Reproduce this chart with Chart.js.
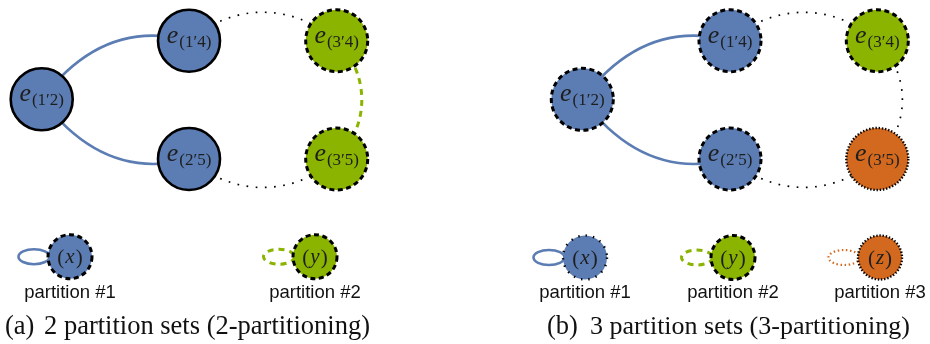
<!DOCTYPE html>
<html>
<head>
<meta charset="utf-8">
<script src="https://cdn.jsdelivr.net/npm/chart.js@4.4.1/dist/chart.umd.min.js"></script>
<style>
  html, body { margin: 0; padding: 0; background: #fff; }
  canvas { display: block; }
</style>
</head>
<body>
<canvas id="graph" width="930" height="344"></canvas>
<script>
// node data (pixel-like units on a 930x344 linear scale)
const nodeSubs = ['(1′2)', '(1′4)', '(2′5)', '(3′4)', '(3′5)'];
const nodeXa = [41.7, 189, 189, 336.7, 336.7];
const nodeXb = [582.3, 730, 730, 877.3, 877.3];
const nodeY = [99.3, 40.7, 159, 40.7, 159];
const partA = [1, 1, 1, 2, 2];
const partB = [1, 1, 1, 2, 3];
const edges = [[0, 1], [0, 2], [1, 3], [2, 4], [3, 4]];
const edgeKindA = ['p1', 'p1', 'cut', 'cut', 'p2'];
const edgeKindB = ['p1', 'p1', 'cut', 'cut', 'cut'];

// legend
const legendSyms = ['x', 'y', 'z'];
const legendLabels = ['partition #1', 'partition #2', 'partition #3'];
const legendXa = [70, 315];
const legendXb = [585, 733, 880];
const legendYa = 256.7;
const legendYb = 257.5;

const captions = ['(a)', '2 partition sets (2-partitioning)', '(b)', '3 partition sets (3-partitioning)'];

const colors = { 1: '#5b7db3', 2: '#8ab400', 3: '#d2691e' };
const borderA = ['solid', 'solid', 'solid', 'dashed', 'dashed'];
const borderB = ['dashed', 'dashed', 'dashed', 'dashed', 'dotted'];
const legendBorderA = ['dashed', 'dashed'];
const legendBorderB = ['sparse', 'dashed', 'dotted'];
const bends = [[53, 165], [-53, -165], [40, 140], [-40, -140], [-45, 45]];

const NODE_R = 31;
const LEG_R = 22;

// scatter without the auto padding for big points, so the scales span the whole canvas
class NodeController extends Chart.ScatterController {
  getMaxOverflow() { return 0; }
}
NodeController.id = 'nodes';
NodeController.defaults = Chart.ScatterController.defaults;
NodeController.overrides = Chart.ScatterController.overrides;
Chart.register(NodeController);

function pts(xs, ys) {
  return xs.map((x, i) => ({ x, y: Array.isArray(ys) ? ys[i] : ys }));
}

function setBorder(ctx, kind) {
  ctx.strokeStyle = '#000';
  ctx.lineCap = 'butt';
  if (kind === 'solid') { ctx.lineWidth = 2.6; ctx.setLineDash([]); }
  else if (kind === 'dashed') { ctx.lineWidth = 3; ctx.setLineDash([5, 3.5]); }
  else if (kind === 'dotted') { ctx.lineWidth = 2.4; ctx.setLineDash([1.4, 1.8]); }
  else { ctx.lineWidth = 2.4; ctx.setLineDash([1.4, 6]); }
}

function setEdge(ctx, kind) {
  ctx.lineCap = 'butt';
  if (kind === 'p1') { ctx.strokeStyle = colors[1]; ctx.lineWidth = 2.6; ctx.setLineDash([]); }
  else if (kind === 'p2') { ctx.strokeStyle = colors[2]; ctx.lineWidth = 3; ctx.setLineDash([6, 5]); }
  else if (kind === 'p3') { ctx.strokeStyle = colors[3]; ctx.lineWidth = 2.2; ctx.setLineDash([1.5, 2.6]); }
  else { ctx.strokeStyle = '#000'; ctx.lineWidth = 1.7; ctx.setLineDash([1.7, 7.5]); }
}

function curve(ctx, A, B, outDeg, inDeg) {
  const L = Math.hypot(B.x - A.x, B.y - A.y) * 0.4;
  const o = outDeg * Math.PI / 180, n = inDeg * Math.PI / 180;
  ctx.beginPath();
  ctx.moveTo(A.x, A.y);
  ctx.bezierCurveTo(A.x + L * Math.cos(o), A.y - L * Math.sin(o),
                    B.x + L * Math.cos(n), B.y - L * Math.sin(n), B.x, B.y);
  ctx.stroke();
}

const graphPlugin = {
  id: 'graph',
  beforeDraw(chart) {
    const ctx = chart.ctx;
    ctx.save();
    ctx.fillStyle = '#fff';
    ctx.fillRect(0, 0, chart.width, chart.height);
    ctx.restore();
  },
  beforeDatasetsDraw(chart) {
    const ctx = chart.ctx, sx = chart.scales.x, sy = chart.scales.y;
    const px = (x, y) => ({ x: sx.getPixelForValue(x), y: sy.getPixelForValue(y) });
    ctx.save();
    [[nodeXa, edgeKindA], [nodeXb, edgeKindB]].forEach(([xs, kinds]) => {
      edges.forEach(([a, b], i) => {
        setEdge(ctx, kinds[i]);
        curve(ctx, px(xs[a], nodeY[a]), px(xs[b], nodeY[b]), bends[i][0], bends[i][1]);
      });
    });
    // self loops on the legend nodes
    [[legendXa, legendYa], [legendXb, legendYb]].forEach(([xs, y]) => {
      xs.forEach((x, i) => {
        const c = px(x, y);
        setEdge(ctx, 'p' + (i + 1));
        ctx.beginPath();
        ctx.ellipse(c.x - 36, c.y, 15.5, 7.5, 0, 0, Math.PI * 2);
        ctx.stroke();
      });
    });
    ctx.restore();
  },
  afterDatasetsDraw(chart) {
    const ctx = chart.ctx, sx = chart.scales.x, sy = chart.scales.y;
    const px = (x, y) => ({ x: sx.getPixelForValue(x), y: sy.getPixelForValue(y) });
    ctx.save();
    // node borders + labels
    [[nodeXa, borderA], [nodeXb, borderB]].forEach(([xs, borders]) => {
      xs.forEach((x, i) => {
        const c = px(x, nodeY[i]);
        setBorder(ctx, borders[i]);
        ctx.beginPath();
        ctx.arc(c.x, c.y, NODE_R, 0, Math.PI * 2);
        ctx.stroke();
        ctx.setLineDash([]);
        ctx.fillStyle = '#1e1e1e';
        ctx.textBaseline = 'alphabetic';
        ctx.textAlign = 'left';
        ctx.font = 'italic 26px "Liberation Serif"';
        const we = ctx.measureText('e').width;
        ctx.font = '17px "Liberation Serif"';
        const ws = ctx.measureText(nodeSubs[i]).width;
        const left = c.x - (we + ws + 1) / 2;
        ctx.font = 'italic 26px "Liberation Serif"';
        ctx.fillText('e', left, c.y + 2);
        ctx.font = '17px "Liberation Serif"';
        ctx.fillText(nodeSubs[i], left + we + 1, c.y + 6);
      });
    });
    // legend borders, symbols, labels
    [[legendXa, legendYa, legendBorderA], [legendXb, legendYb, legendBorderB]].forEach(([xs, y, borders]) => {
      xs.forEach((x, i) => {
        const c = px(x, y);
        setBorder(ctx, borders[i]);
        ctx.beginPath();
        ctx.arc(c.x, c.y, LEG_R, 0, Math.PI * 2);
        ctx.stroke();
        ctx.setLineDash([]);
        ctx.fillStyle = '#1e1e1e';
        ctx.textBaseline = 'alphabetic';
        ctx.textAlign = 'left';
        ctx.font = '21px "Liberation Serif"';
        const wp = ctx.measureText('(').width;
        ctx.font = 'italic 21px "Liberation Serif"';
        const ws = ctx.measureText(legendSyms[i]).width;
        const left = c.x - (2 * wp + ws + 2) / 2;
        ctx.font = '21px "Liberation Serif"';
        ctx.fillText('(', left, c.y + 7);
        ctx.fillText(')', left + wp + ws + 2, c.y + 7);
        ctx.font = 'italic 21px "Liberation Serif"';
        ctx.fillText(legendSyms[i], left + wp + 1, c.y + 6);
        ctx.fillStyle = '#111';
        ctx.textAlign = 'center';
        ctx.font = '18.5px "Liberation Sans"';
        ctx.fillText(legendLabels[i], c.x, 298);
      });
    });
    // captions
    ctx.fillStyle = '#111';
    ctx.textAlign = 'left';
    ctx.font = '26.5px "Liberation Serif"';
    ctx.fillText(captions[0], 5, 334);
    ctx.fillText(captions[1], 44, 334);
    ctx.fillText(captions[2], 547, 334);
    ctx.font = '26px "Liberation Serif"';
    ctx.fillText(captions[3], 590, 334);
    ctx.restore();
  }
};

new Chart(document.getElementById('graph'), {
  type: 'nodes',
  data: {
    datasets: [
      { data: pts(nodeXa, nodeY), pointRadius: NODE_R, pointBackgroundColor: partA.map(p => colors[p]), pointBorderWidth: 0 },
      { data: pts(nodeXb, nodeY), pointRadius: NODE_R, pointBackgroundColor: partB.map(p => colors[p]), pointBorderWidth: 0 },
      { data: pts(legendXa, legendYa), pointRadius: LEG_R, pointBackgroundColor: [colors[1], colors[2]], pointBorderWidth: 0 },
      { data: pts(legendXb, legendYb), pointRadius: LEG_R, pointBackgroundColor: [colors[1], colors[2], colors[3]], pointBorderWidth: 0 }
    ]
  },
  options: {
    responsive: false,
    animation: false,
    events: [],
    layout: { padding: 0 },
    plugins: { legend: { display: false }, tooltip: { enabled: false } },
    scales: {
      x: { type: 'linear', min: 0, max: 930, display: false },
      y: { type: 'linear', min: 0, max: 344, reverse: true, display: false }
    }
  },
  plugins: [graphPlugin]
});
</script>
</body>
</html>
